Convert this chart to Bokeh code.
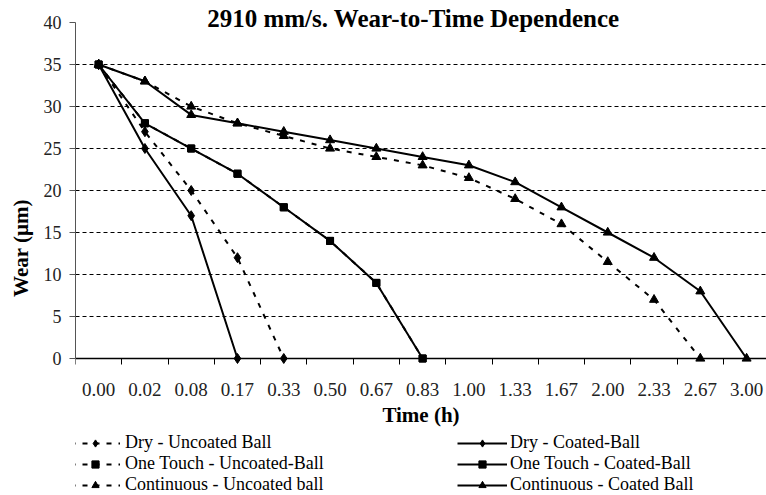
from bokeh.plotting import figure
from bokeh.models import Range1d, FixedTicker, Label, Legend, LegendItem
from bokeh.embed import file_html
from bokeh.resources import INLINE

# ---- data ----
times = ["0.00", "0.02", "0.08", "0.17", "0.33", "0.50", "0.67", "0.83",
         "1.00", "1.33", "1.67", "2.00", "2.33", "2.67", "3.00"]
dry_uncoated = [35, 27, 20, 12, 0]
dry_coated = [35, 25, 17, 0]
one_touch_uncoated = [35, 28, 25, 22, 18, 14, 9, 0]
one_touch_coated = [35, 28, 25, 22, 18, 14, 9, 0]
continuous_uncoated = [35, 33, 30, 28, 26.5, 25, 24, 23, 21.5, 19, 16, 11.5, 7, 0]
continuous_coated = [35, 33, 29, 28, 27, 26, 25, 24, 23, 21, 18, 15, 12, 8, 0]
y_ticks = [0, 5, 10, 15, 20, 25, 30, 35, 40]
grid_values = [5, 10, 15, 20, 25, 30, 35]

series = [
    ("Dry - Uncoated Ball", dry_uncoated, "diamond", True),
    ("One Touch - Uncoated-Ball", one_touch_uncoated, "square", True),
    ("Continuous - Uncoated ball", continuous_uncoated, "triangle", True),
    ("Dry - Coated-Ball", dry_coated, "diamond", False),
    ("One Touch - Coated-Ball", one_touch_coated, "square", False),
    ("Continuous - Coated Ball", continuous_coated, "triangle", False),
]

SERIF = "'Liberation Serif', 'Times New Roman', serif"
centers = [i + 0.5 for i in range(len(times))]
bounds = [i for i in range(len(times) + 1)]

# frame spans the whole canvas height; the x axis is pinned at wear = 0
p = figure(width=766, height=495, output_backend="svg", toolbar_location=None,
           x_range=Range1d(0, 14.93), y_range=Range1d(-16.31, 42.62),
           min_border_left=75, min_border_right=0, min_border_top=0,
           min_border_bottom=0)
p.outline_line_color = None
p.background_fill_color = "white"
p.border_fill_color = "white"

# x axis: labels at category centers, tick marks at category boundaries
xa = p.xaxis[0]
xa.fixed_location = 0
xa.ticker = FixedTicker(ticks=centers, minor_ticks=bounds)
xa.major_label_overrides = {c: t for c, t in zip(centers, times)}
xa.major_tick_out = 0
xa.major_tick_in = 0
xa.minor_tick_out = 6
xa.minor_tick_in = 0
xa.minor_tick_line_color = "black"
xa.axis_line_color = "black"
xa.axis_line_width = 1.5
xa.major_label_standoff = 19
xa.major_label_text_font = SERIF
xa.major_label_text_font_size = "19px"
xa.major_label_text_color = "#222222"
xa.axis_label = "Time (h)"
xa.axis_label_text_font = SERIF
xa.axis_label_text_font_style = "bold"
xa.axis_label_text_font_size = "21px"
xa.axis_label_standoff = 3
xa.axis_label_text_color = "black"

ya = p.yaxis[0]
ya.bounds = (0, 40)
ya.ticker = FixedTicker(ticks=y_ticks)
ya.minor_tick_out = 0
ya.minor_tick_in = 0
ya.major_tick_out = 6
ya.major_tick_in = 0
ya.axis_line_color = "#555555"
ya.major_tick_line_color = "#555555"
ya.major_label_standoff = 8
ya.major_label_text_font = SERIF
ya.major_label_text_font_size = "18px"
ya.major_label_text_color = "#222222"
ya.axis_label = "Wear (µm)"
ya.axis_label_text_font = SERIF
ya.axis_label_text_font_style = "bold"
ya.axis_label_text_font_size = "21px"
ya.axis_label_standoff = 8
ya.axis_label_text_color = "black"

p.xgrid.visible = False
p.ygrid.ticker = FixedTicker(ticks=grid_values)
p.ygrid.grid_line_color = "black"
p.ygrid.grid_line_dash = "4 3"
p.ygrid.grid_line_width = 1

items = []
for label, vals, marker, dashed in series:
    xs = centers[:len(vals)]
    ln = p.line(xs, vals, line_color="black", line_width=2,
                line_dash="5 7" if dashed else "solid")
    size = {"diamond": 10, "square": 7, "triangle": 9}[marker]
    sc = p.scatter(xs, vals, marker=marker, size=size, fill_color="black",
                   line_color="black")
    items.append((LegendItem(label=label, renderers=[ln, sc]), dashed))


def make_legend(item, loc, standoff):
    return Legend(items=[item], location=loc, padding=0, margin=0, spacing=0,
                  border_line_color=None, background_fill_alpha=0,
                  glyph_width=50, glyph_height=18, label_height=18,
                  label_standoff=standoff, label_text_font=SERIF,
                  label_text_font_size="18px", label_text_line_height=1.0,
                  label_text_color="black")


# one legend entry per row/column slot (offsets from the bottom edge)
row_offsets = [42, 21, 0]
left = [it for it, d in items if d]
right = [it for it, d in items if not d]
for it, vy in zip(left, row_offsets):
    p.add_layout(make_legend(it, (-5, vy), 5), "center")
for it, vy in zip(right, row_offsets):
    p.add_layout(make_legend(it, (382, vy), 3), "center")

p.add_layout(Label(x=7.3, y=40.48, text="2910 mm/s. Wear-to-Time Dependence",
                   text_font=SERIF, text_font_style="bold", text_font_size="25px",
                   text_align="center", text_baseline="middle", text_color="black"))

open("out.html", "w").write(file_html(p, INLINE))
